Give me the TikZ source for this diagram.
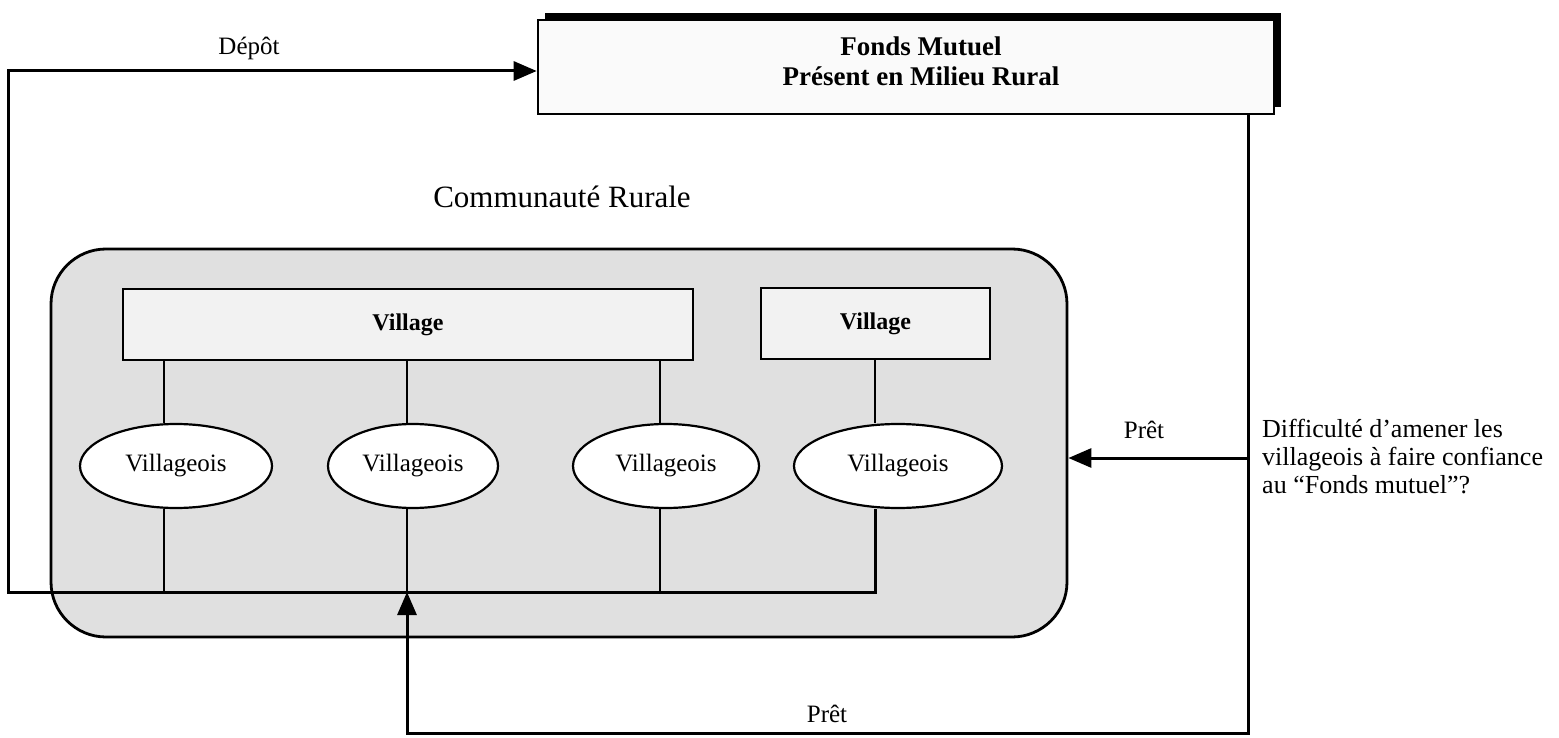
\documentclass[tikz,border=0pt]{standalone}
\usepackage{fontspec}
\setmainfont{Liberation Serif}
\usetikzlibrary{arrows.meta,shapes.geometric,shadows}

\begin{document}
\begin{tikzpicture}[x=1pt,y=-1pt,
  heavy/.style={line width=3pt},
  light/.style={line width=1.7pt},
  tip/.style={-{Triangle[length=23pt,width=19pt]}},
  label/.style={font=\fontsize{25}{28}\selectfont, inner sep=0pt},
  villagebox/.style={draw, line width=2.4pt, fill=black!5, inner sep=0pt,
    font=\fontsize{24}{28}\selectfont\bfseries},
  villager/.style={ellipse, draw, line width=2.2pt, fill=white, inner sep=0pt,
    minimum height=84pt, font=\fontsize{25}{28}\selectfont},
]
\useasboundingbox (0,0) rectangle (1559,738);

% rural community area
\node[draw, line width=2.8pt, fill=black!12, rounded corners=55pt,
      minimum width=1016pt, minimum height=388pt, inner sep=0pt]
  (comm) at (559,443) {};
\node[anchor=base, inner sep=0pt, font=\fontsize{31}{34}\selectfont]
  (commtitle) at (562,208) {Communauté Rurale};

% mutual fund box with its shadow
\node[draw, line width=2.6pt, fill=black!2, minimum width=736pt,
      minimum height=94pt, inner sep=0pt,
      general shadow={fill=black, shadow xshift=7pt, shadow yshift=7pt}]
  (fonds) at (906,67) {};
\node[align=center, inner sep=0pt, font=\fontsize{27}{30}\selectfont\bfseries]
  (fondstxt) at (921,61) {Fonds Mutuel\\Présent en Milieu Rural};

% villages
\node[villagebox, minimum width=570pt, minimum height=71pt] (v1) at (408,324.5) {Village};
\node[villagebox, minimum width=229pt, minimum height=71pt] (v2) at (875.5,323.5) {Village};

% villagers
\node[villager, minimum width=192pt] (e1) at (176,466) {Villageois};
\node[villager, minimum width=170pt] (e2) at (413,466) {Villageois};
\node[villager, minimum width=186pt] (e3) at (666,466) {Villageois};
\node[villager, minimum width=208pt] (e4) at (898,466) {Villageois};

% reference points of the connectors
\coordinate (x1) at (164,0);
\coordinate (x2) at (407,0);
\coordinate (x3) at (660,0);
\coordinate (x4) at (875,0);
\coordinate (busL) at (8,592);
\coordinate (busR) at (875,592);
\coordinate (depC) at (8,71);
\coordinate (pretR) at (1248,458);
\coordinate (pretBR) at (1248,733);
\coordinate (pretBL) at (407,733);

% village to villagers
\draw[light] (v1.south -| x1) -- (x1 |- e1.north);
\draw[light] (v1.south -| x2) -- (x2 |- e2.north);
\draw[light] (v1.south -| x3) -- (x3 |- e3.north);
\draw[light] (v2.south -| x4) -- (x4 |- e4.north);

% villagers to the common line
\draw[light] (x1 |- e1.south) -- (x1 |- busL);
\draw[light] (x2 |- e2.south) -- (x2 |- busL);
\draw[light] (x3 |- e3.south) -- (x3 |- busL);

% deposit towards the fund, starting from the last villager
\draw[heavy, tip] (x4 |- e4.south) -- (busR) -- (busL) -- (depC) -- (fonds.west |- depC);
\node[label, anchor=base] (deplbl) at (249,55) {Dépôt};

% loans back to the community
\draw[heavy, tip] (fonds.south -| pretR) -- (pretBR) -- (pretBL) -- (pretBL |- busL);
\draw[heavy, tip] (pretR) -- (comm.east |- pretR);
\node[label, anchor=base] (pret1) at (1144,438) {Prêt};
\node[label, anchor=base] (pret2) at (827,722) {Prêt};

% question
\node[anchor=north west, align=left, inner sep=0pt,
      font=\fontsize{26}{28}\selectfont]
  (question) at (1262,419)
  {Difficulté d’amener les\\villageois à faire confiance\\au “Fonds mutuel”?};
\end{tikzpicture}
\end{document}
